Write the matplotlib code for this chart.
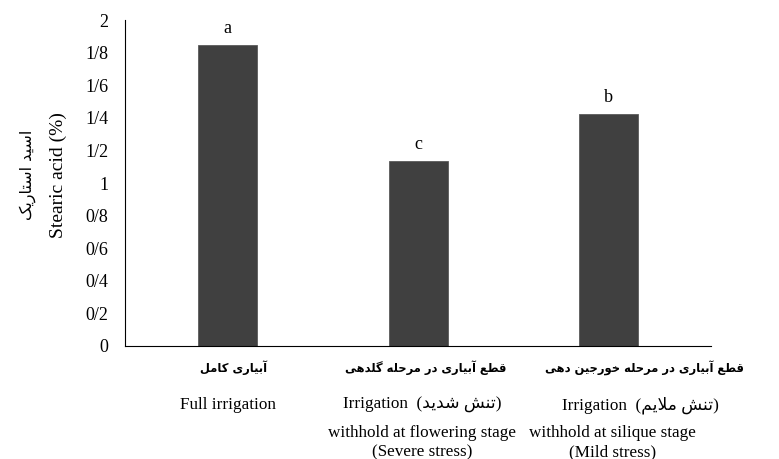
import numpy as np
import matplotlib.pyplot as plt
from matplotlib.transforms import blended_transform_factory

plt.rcParams.update({
    "font.family": ["Liberation Serif", "DejaVu Sans"],
    "font.size": 12,
    "axes.linewidth": 0.8,
})

# data
categories = [0, 1, 2]
values = [1.847, 1.135, 1.423]
letters = ["a", "c", "b"]
yticks = [0, 0.2, 0.4, 0.6, 0.8, 1.0, 1.2, 1.4, 1.6, 1.8, 2.0]
ytick_labels = ["0", "0/2", "0/4", "0/6", "0/8", "1", "1/2", "1/4", "1/6", "1/8", "2"]

labels_fa = ["آبیاری کامل", "قطع آبیاری در مرحله گلدهی", "قطع آبیاری در مرحله خورجین دهی"]
labels_en = ["Full irrigation", "Irrigation", "Irrigation"]
labels_fa2 = [None, "تنش شدید", "تنش ملایم"]
labels_en3 = [None, "withhold at flowering stage", "withhold at silique stage"]
labels_en4 = [None, "(Severe stress)", "(Mild stress)"]
ylabel_fa = "اسید استاریک"
ylabel_en = "Stearic acid (%)"

# minimal arabic/persian shaping: (isolated, final, initial, medial)
FORMS = {
    "ا": (0xFE8D, 0xFE8E, None, None), "آ": (0xFE81, 0xFE82, None, None),
    "ب": (0xFE8F, 0xFE90, 0xFE91, 0xFE92), "ت": (0xFE95, 0xFE96, 0xFE97, 0xFE98),
    "ج": (0xFE9D, 0xFE9E, 0xFE9F, 0xFEA0), "ح": (0xFEA1, 0xFEA2, 0xFEA3, 0xFEA4),
    "خ": (0xFEA5, 0xFEA6, 0xFEA7, 0xFEA8), "د": (0xFEA9, 0xFEAA, None, None),
    "ر": (0xFEAD, 0xFEAE, None, None), "ز": (0xFEAF, 0xFEB0, None, None),
    "س": (0xFEB1, 0xFEB2, 0xFEB3, 0xFEB4), "ش": (0xFEB5, 0xFEB6, 0xFEB7, 0xFEB8),
    "ط": (0xFEC1, 0xFEC2, 0xFEC3, 0xFEC4), "ع": (0xFEC9, 0xFECA, 0xFECB, 0xFECC),
    "ق": (0xFED5, 0xFED6, 0xFED7, 0xFED8), "ل": (0xFEDD, 0xFEDE, 0xFEDF, 0xFEE0),
    "م": (0xFEE1, 0xFEE2, 0xFEE3, 0xFEE4), "ن": (0xFEE5, 0xFEE6, 0xFEE7, 0xFEE8),
    "ه": (0xFEE9, 0xFEEA, 0xFEEB, 0xFEEC), "و": (0xFEED, 0xFEEE, None, None),
    "ی": (0xFBFC, 0xFBFD, 0xFBFE, 0xFBFF), "ک": (0xFB8E, 0xFB8F, 0xFB90, 0xFB91),
    "گ": (0xFB92, 0xFB93, 0xFB94, 0xFB95),
}


def fa(s):
    out = []
    i = 0
    while i < len(s):
        c = s[i]
        if c not in FORMS:
            out.append(c)
            i += 1
            continue
        prev_j = i > 0 and s[i - 1] in FORMS and FORMS[s[i - 1]][2] is not None
        if c == "ل" and i + 1 < len(s) and s[i + 1] == "ا":
            out.append(chr(0xFEFC if prev_j else 0xFEFB))
            i += 2
            continue
        f = FORMS[c]
        next_j = f[2] is not None and i + 1 < len(s) and s[i + 1] in FORMS
        if prev_j and next_j:
            out.append(chr(f[3]))
        elif prev_j:
            out.append(chr(f[1]))
        elif next_j:
            out.append(chr(f[2]))
        else:
            out.append(chr(f[0]))
        i += 1
    return "".join(out[::-1])


fig = plt.figure(figsize=(7.79, 4.59), dpi=100)
ax = fig.add_axes([0.1605, 0.2462, 0.7525, 0.7102])

ax.bar(categories, values, width=0.31, color="#404040", edgecolor="#5a5a5a", linewidth=0.6)
for x, v, t in zip(categories, values, letters):
    ax.annotate(t, (x, v), xytext=(0, 6), textcoords="offset points",
                ha="center", va="bottom", fontsize=13)

ax.set_xlim(-0.54, 2.54)
ax.set_ylim(0, 2)
ax.set_yticks(yticks)
ax.set_yticklabels(ytick_labels)
ax.tick_params(axis="y", length=0, pad=12, labelsize=13)
ax.set_xticks([])
ax.spines["top"].set_visible(False)
ax.spines["right"].set_visible(False)

tr = blended_transform_factory(ax.transData, fig.transFigure)
px = 1 / 190.5  # one pixel in category units
H = 459.0
fa_font = ["DejaVu Sans"]
fa_shift = [6, 8, 36]
row2_shift = [0, 4, 32]
for i in categories:
    ax.text(i + fa_shift[i] * px, 1 - 368 / H, fa(labels_fa[i]), transform=tr,
            ha="center", va="center", fontsize=8.3, family=fa_font, fontweight="bold")
    if labels_fa2[i] is None:
        ax.text(i, 1 - 405 / H, labels_en[i], transform=tr, ha="center", va="center", fontsize=12.3)
    else:
        ax.text(i + row2_shift[i] * px, 1 - 405 / H, labels_en[i] + "  (" + fa(labels_fa2[i]) + ")",
                transform=tr, ha="center", va="center", fontsize=12.3)
        ax.text(i + 4 * px, 1 - 433 / H, labels_en3[i], transform=tr, ha="center", va="center",
                fontsize=12.3)
        ax.text(i + 4 * px, 1 - 452 / H, labels_en4[i], transform=tr, ha="center", va="center",
                fontsize=12.3)

fig.text(28 / 779, 1 - 175 / H, fa(ylabel_fa), rotation=90, ha="center", va="center",
         fontsize=11.5, family=fa_font)
fig.text(58 / 779, 1 - 175 / H, ylabel_en, rotation=90, ha="center", va="center", fontsize=14)

fig.savefig("out.png", dpi=100)
